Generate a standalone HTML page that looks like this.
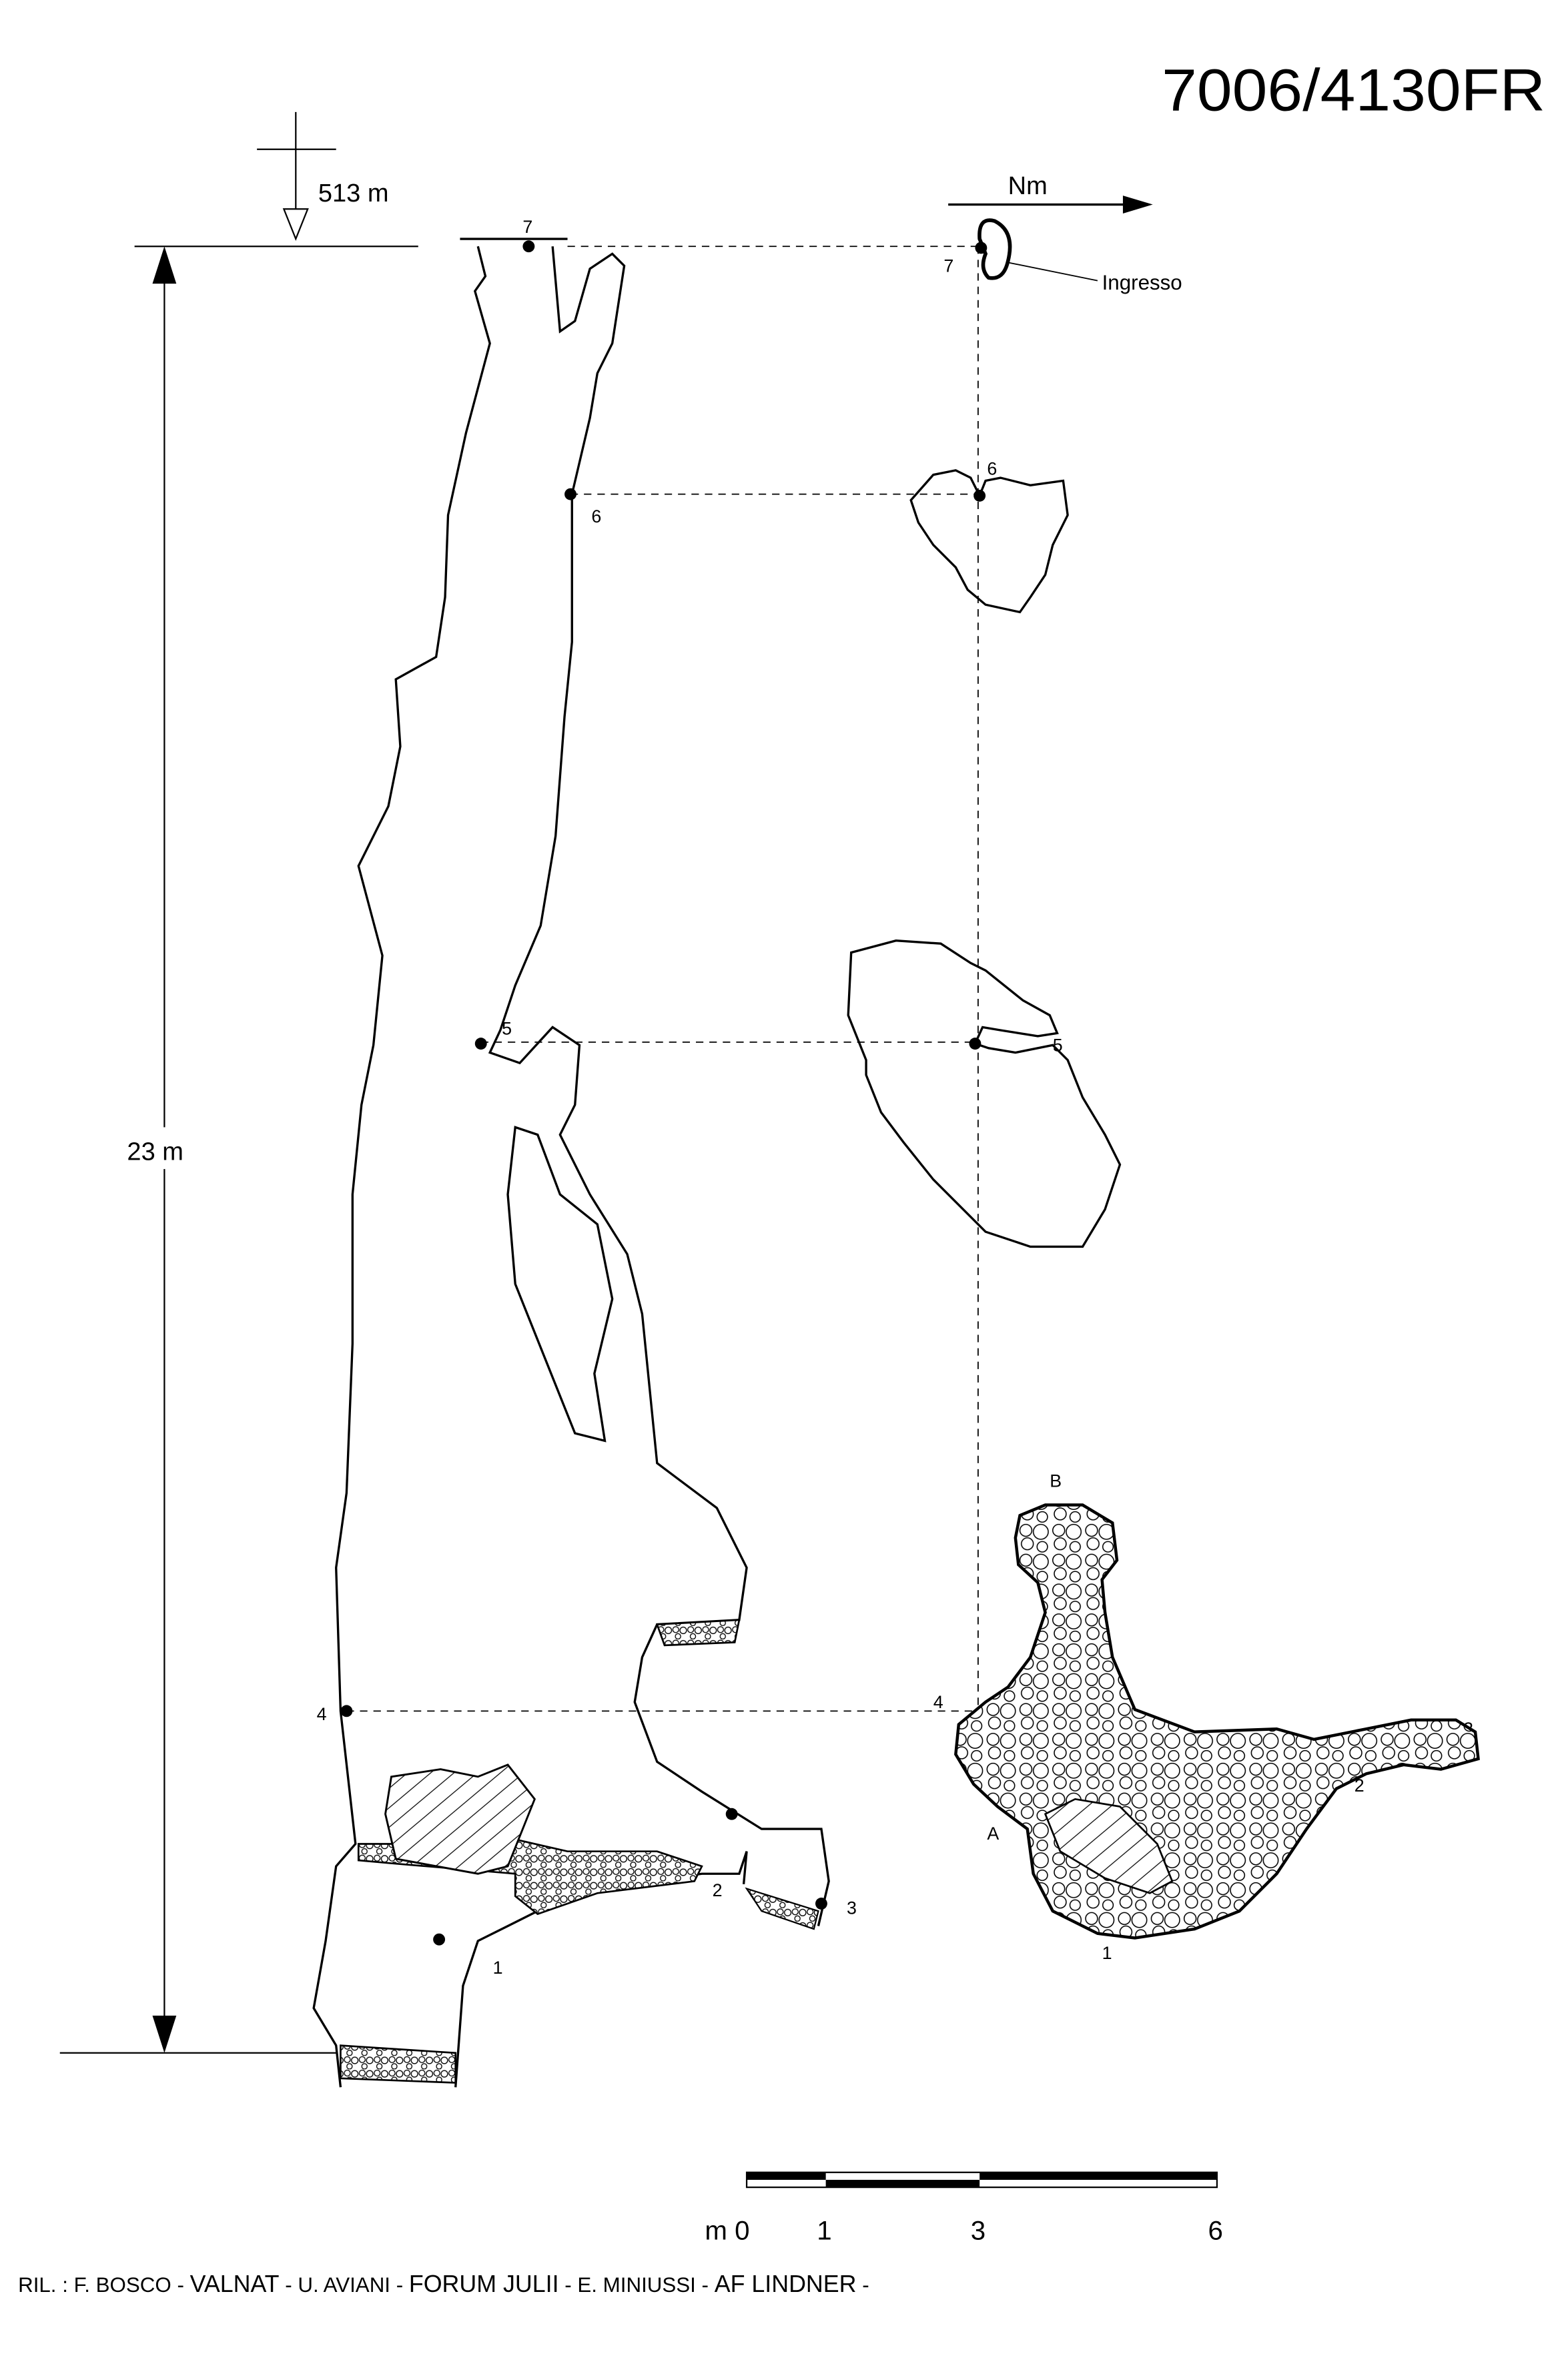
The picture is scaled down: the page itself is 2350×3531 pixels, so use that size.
<!DOCTYPE html>
<html><head><meta charset="utf-8"><style>
html,body{margin:0;padding:0;background:#fff;}
svg{display:block;}
text{font-family:"Liberation Sans",Arial,sans-serif;fill:#000;}
</style></head><body>
<svg width="2350" height="3531" viewBox="0 0 1050 1578" xmlns="http://www.w3.org/2000/svg">
<defs>
<pattern id="peb" width="22" height="20" patternUnits="userSpaceOnUse">
<rect width="22" height="20" fill="#fff"/>
<circle cx="5" cy="5" r="4" fill="none" stroke="#000" stroke-width="0.7"/>
<circle cx="15" cy="6" r="5" fill="none" stroke="#000" stroke-width="0.7"/>
<circle cx="6" cy="14" r="4" fill="none" stroke="#000" stroke-width="0.7"/>
<circle cx="16" cy="16" r="3.5" fill="none" stroke="#000" stroke-width="0.7"/>
</pattern>
<pattern id="peb2" width="10" height="9" patternUnits="userSpaceOnUse">
<rect width="10" height="9" fill="#fff"/>
<circle cx="2.5" cy="2.5" r="2" fill="none" stroke="#000" stroke-width="0.6"/>
<circle cx="7.5" cy="3" r="2.2" fill="none" stroke="#000" stroke-width="0.6"/>
<circle cx="4" cy="7" r="1.8" fill="none" stroke="#000" stroke-width="0.6"/>
</pattern>
<pattern id="hatch" width="10" height="10" patternUnits="userSpaceOnUse" patternTransform="rotate(-40)">
<rect width="10" height="10" fill="#fff"/><line x1="0" y1="5" x2="10" y2="5" stroke="#000" stroke-width="0.6"/>
</pattern>
</defs>

<text x="778" y="74" font-size="40" textLength="257" lengthAdjust="spacingAndGlyphs">7006/4130FR</text>

<!-- elevation marker -->
<line x1="172" y1="100" x2="225" y2="100" stroke="#000" stroke-width="1"/>
<line x1="198" y1="75" x2="198" y2="160" stroke="#000" stroke-width="1"/>
<polygon points="190,140 206,140 198,160" fill="#fff" stroke="#000" stroke-width="1"/>
<text x="213" y="135" font-size="17">513 m</text>
<line x1="90" y1="165" x2="280" y2="165" stroke="#000" stroke-width="1"/>
<line x1="40" y1="1375" x2="225" y2="1375" stroke="#000" stroke-width="1"/>
<line x1="110" y1="185" x2="110" y2="1355" stroke="#000" stroke-width="1"/>
<polygon points="102,190 118,190 110,165" fill="#000"/>
<polygon points="102,1350 118,1350 110,1375" fill="#000"/>
<rect x="70" y="755" width="70" height="28" fill="#fff"/>
<text x="85" y="777" font-size="17">23 m</text>

<!-- north -->
<line x1="635" y1="137" x2="755" y2="137" stroke="#000" stroke-width="1.5"/>
<polygon points="752,131 772,137 752,143" fill="#000"/>
<text x="675" y="130" font-size="17">Nm</text>

<!-- dashed -->
<g stroke="#000" stroke-width="0.8" stroke-dasharray="5,4" fill="none">
<line x1="380" y1="165" x2="655" y2="165"/>
<line x1="382" y1="331" x2="655" y2="331"/>
<line x1="322" y1="698" x2="652" y2="698"/>
<line x1="232" y1="1146" x2="657" y2="1146"/>
<line x1="655" y1="165" x2="655" y2="1146"/>
</g>

<!-- section -->
<g fill="none" stroke="#000" stroke-width="1.5">
<path d="M308,160 L380,160 M320,165 L325,185 L318,195 L328,230 L312,290 L300,345 L298,400 L292,440 L265,455 L268,500 L260,540 L240,580 L256,640 L250,700 L242,740 L236,800 L236,900 L232,1000 L225,1050 L228,1146 L238,1235 L225,1250 L218,1300 L210,1345 L225,1370 L228,1398"/>
<path d="M370,165 L375,222 L385,215 L395,180 L410,170 L418,178 L410,230 L400,250 L395,280 L383,331 L383,430 L378,480 L372,560 L362,620 L345,660 L335,690 L328,705 L348,712 L370,688 L388,700 L385,740 L375,760 L395,800 L420,840 L430,880 L440,980 L480,1010 L500,1050 L495,1085 L440,1088 L430,1110 L425,1140 L440,1180 L470,1200 L510,1225 L550,1225 L555,1260 L548,1290"/>
<path d="M498,1262 L500,1240 L495,1255 L470,1255 L400,1265 L360,1280 L320,1300 L310,1330 L305,1398"/>
<path d="M345,755 L340,800 L345,860 L385,960 L405,965 L398,920 L410,870 L400,820 L375,800 L360,760 Z"/>
</g>
<path d="M440,1088 L495,1085 L492,1100 L445,1102 Z" fill="url(#peb2)" stroke="#000" stroke-width="1.2"/>
<path d="M240,1235 L262,1235 L345,1232 L380,1240 L440,1240 L470,1250 L465,1260 L400,1268 L360,1282 L345,1270 L345,1255 L262,1248 L240,1246 Z" fill="url(#peb2)" stroke="#000" stroke-width="1.2"/>
<path d="M500,1265 L548,1280 L545,1292 L510,1280 Z" fill="url(#peb2)" stroke="#000" stroke-width="1"/>
<path d="M228,1370 L305,1375 L305,1395 L228,1392 Z" fill="url(#peb2)" stroke="#000" stroke-width="1.2"/>
<path d="M262,1190 L295,1185 L320,1190 L340,1182 L358,1205 L340,1250 L320,1255 L265,1245 L258,1215 Z" fill="url(#hatch)" stroke="#000" stroke-width="1.3"/>

<g fill="#000">
<circle cx="354" cy="165" r="4"/><circle cx="382" cy="331" r="4"/><circle cx="322" cy="699" r="4"/>
<circle cx="232" cy="1146" r="4"/><circle cx="490" cy="1215" r="4"/><circle cx="294" cy="1299" r="4"/>
<circle cx="550" cy="1275" r="4"/>
<circle cx="657" cy="166" r="4"/><circle cx="656" cy="332" r="4"/><circle cx="653" cy="699" r="4"/>
<circle cx="658" cy="1148" r="4"/><circle cx="709" cy="1036" r="4"/><circle cx="680" cy="1213" r="4"/>
<circle cx="908" cy="1183" r="4"/><circle cx="971" cy="1165" r="4"/><circle cx="758" cy="1290" r="4"/>
</g>
<g font-size="12">
<text x="350" y="156">7</text><text x="396" y="350">6</text><text x="336" y="693">5</text>
<text x="212" y="1152">4</text><text x="477" y="1270">2</text><text x="330" y="1322">1</text><text x="567" y="1282">3</text>
<text x="632" y="182">7</text><text x="661" y="318">6</text><text x="705" y="704">5</text>
<text x="625" y="1144">4</text><text x="703" y="996">B</text><text x="661" y="1232">A</text>
<text x="907" y="1200">2</text><text x="980" y="1162">3</text><text x="738" y="1312">1</text>
</g>

<!-- plans -->
<path d="M656,160 Q655,145 666,148 Q680,155 675,175 Q672,188 662,186 Q656,180 660,170 Z" fill="none" stroke="#000" stroke-width="2.5"/>
<line x1="676" y1="176" x2="735" y2="188" stroke="#000" stroke-width="0.8"/>
<text x="738" y="194" font-size="14">Ingresso</text>
<path d="M656,332 L660,322 L670,320 L690,325 L712,322 L715,345 L705,365 L700,385 L690,400 L683,410 L660,405 L648,395 L640,380 L625,365 L615,350 L610,335 L625,318 L640,315 L650,320 Z" fill="none" stroke="#000" stroke-width="1.5"/>
<path d="M653,699 L658,688 L670,690 L695,694 L708,692 L703,680 L685,670 L660,650 L650,645 L630,632 L600,630 L570,638 L568,680 L580,710 L580,720 L590,745 L605,765 L625,790 L640,805 L660,825 L690,835 L725,835 L740,810 L750,780 L740,760 L725,735 L715,710 L705,700 L680,705 L662,702 Z" fill="none" stroke="#000" stroke-width="1.5"/>
<path d="M683,1015 L700,1008 L725,1008 L745,1020 L748,1045 L738,1058 L740,1080 L745,1110 L760,1145 L800,1160 L855,1158 L880,1165 L915,1158 L945,1152 L975,1152 L988,1160 L990,1178 L965,1185 L940,1182 L915,1188 L895,1198 L875,1225 L855,1255 L830,1280 L800,1292 L760,1298 L735,1295 L705,1280 L692,1255 L688,1225 L668,1210 L652,1195 L640,1175 L642,1155 L660,1140 L675,1130 L690,1110 L700,1080 L695,1060 L682,1048 L680,1030 Z" fill="url(#peb)" stroke="#000" stroke-width="2"/>
<path d="M700,1215 L720,1205 L750,1210 L775,1235 L785,1260 L770,1268 L740,1258 L710,1240 Z" fill="url(#hatch)" stroke="#000" stroke-width="1.2"/>

<!-- scale bar -->
<rect x="500" y="1455" width="315" height="10" fill="#fff" stroke="#000" stroke-width="1"/>
<rect x="500" y="1455" width="53" height="5" fill="#000"/>
<rect x="553" y="1460" width="103" height="5" fill="#000"/>
<rect x="656" y="1455" width="159" height="5" fill="#000"/>
<g font-size="18"><text x="472" y="1500">m 0</text><text x="547" y="1500">1</text><text x="650" y="1500">3</text><text x="809" y="1500">6</text></g>

<text x="12" y="1535" font-size="14">RIL. : F. BOSCO - <tspan font-size="16">VALNAT</tspan> - U. AVIANI - <tspan font-size="16">FORUM JULII</tspan> - E. MINIUSSI - <tspan font-size="16">AF LINDNER</tspan> -</text>
</svg>
</body></html>
